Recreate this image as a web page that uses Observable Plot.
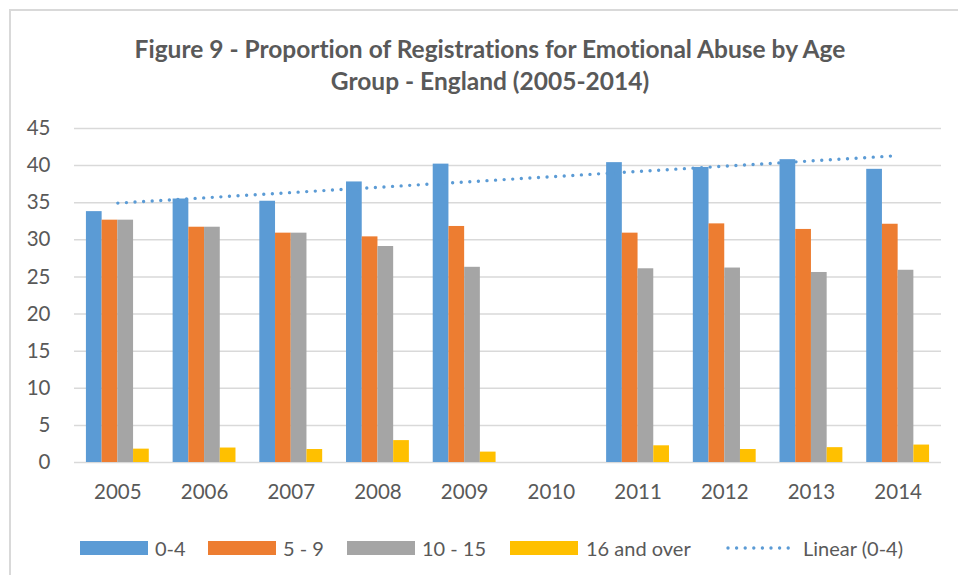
<!DOCTYPE html>
<html>
<head>
<meta charset="utf-8">
<script src="https://cdn.jsdelivr.net/npm/d3@7"></script>
<script src="https://cdn.jsdelivr.net/npm/@observablehq/plot@0.6"></script>
<style>
  html, body { margin: 0; padding: 0; background: #fff; }
  #wrap { position: relative; width: 958px; height: 575px; overflow: hidden; font-family: Lato, "Open Sans", sans-serif; color: #595959; font-variant-ligatures: none; }
  #border { position: absolute; left: 9px; top: 9px; width: 1100px; height: 800px; border: 2px solid #d9d9d9; box-sizing: border-box; }
  #title { position: absolute; left: 0; width: 980px; top: 33px; text-align: center; font-weight: bold; font-size: 24.5px; line-height: 32px; }
  #chart { position: absolute; left: 0; top: 0; }
  .lg { position: absolute; top: 536px; font-size: 20px; line-height: 24px; white-space: nowrap; }
  .sw { position: absolute; top: 541px; height: 14px; }
  svg text { font-variant-ligatures: none; }
</style>
</head>
<body>
<div id="wrap">
  <div id="border"></div>
  <div id="title">Figure 9 - Proportion of Registrations for Emotional Abuse by Age<br>Group - England (2005-2014)</div>
  <div id="chart"></div>
  <div id="legend"></div>
</div>
<script>
const years = [2005, 2006, 2007, 2008, 2009, 2010, 2011, 2012, 2013, 2014];
const seriesNames = ["0-4", "5 - 9", "10 - 15", "16 and over"];
const age0to4   = [33.8, 35.5, 35.2, 37.8, 40.2, null, 40.4, 39.75, 40.8, 39.5];
const age5to9   = [32.65, 31.7, 30.9, 30.4, 31.8, null, 30.9, 32.15, 31.4, 32.1];
const age10to15 = [32.65, 31.7, 30.9, 29.1, 26.3, null, 26.1, 26.2, 25.6, 25.9];
const age16plus = [1.8, 1.95, 1.75, 2.95, 1.4, null, 2.25, 1.75, 2.0, 2.35];
const yTicks = [0, 5, 10, 15, 20, 25, 30, 35, 40, 45];
const trendLabel = "Linear (0-4)";
const colors = ["#5b9bd5", "#ed7d31", "#a5a5a5", "#ffc000"];

const allSeries = [age0to4, age5to9, age10to15, age16plus];
const table = [];
allSeries.forEach((vals, i) => {
  vals.forEach((v, j) => {
    if (v != null) table.push({year: years[j], series: seriesNames[i], i, value: v});
  });
});
const trendData = years.map((y, j) => ({year: y, value: age0to4[j]})).filter(d => d.value != null);

const barW = 0.18125;
const groupStart = -2 * barW;

const plot = Plot.plot({
  width: 958,
  height: 520,
  marginTop: 128,
  marginBottom: 58,
  marginLeft: 74,
  marginRight: 17,
  style: {fontFamily: "Lato, 'Open Sans', sans-serif", fontSize: "20.5px", color: "#595959", background: "transparent"},
  x: {domain: [2004.5, 2014.5]},
  y: {domain: [0, 45]},
  color: {domain: seriesNames, range: colors},
  marks: [
    Plot.ruleY(yTicks, {stroke: "#d9d9d9", strokeWidth: 1.5}),
    Plot.rectY(table, {
      x1: d => d.year + groupStart + d.i * barW,
      x2: d => d.year + groupStart + (d.i + 1) * barW,
      y: "value",
      fill: "series",
      inset: 0
    }),
    Plot.linearRegressionY(trendData, {
      x: "year", y: "value", ci: 0,
      stroke: "#5b9bd5", strokeWidth: 3.4,
      strokeDasharray: "0 8.6", strokeLinecap: "round"
    }),
    Plot.axisY({ticks: yTicks, tickSize: 0, tickPadding: 24, label: null}),
    Plot.axisX({ticks: years, tickFormat: d => String(d), tickSize: 0, tickPadding: 22, label: null})
  ]
});
document.getElementById("chart").appendChild(plot);

// Legend
const legend = document.getElementById("legend");
const items = [
  {sw: 80, tx: 155, label: seriesNames[0], color: colors[0]},
  {sw: 208, tx: 283, label: seriesNames[1], color: colors[1]},
  {sw: 347, tx: 422, label: seriesNames[2], color: colors[2]},
  {sw: 510, tx: 586, label: seriesNames[3], color: colors[3]}
];
items.forEach(it => {
  const s = document.createElement("div");
  s.className = "sw";
  s.style.left = it.sw + "px";
  s.style.width = "68px";
  s.style.background = it.color;
  legend.appendChild(s);
  const t = document.createElement("div");
  t.className = "lg";
  t.style.left = it.tx + "px";
  t.textContent = it.label;
  legend.appendChild(t);
});
const ns = "http://www.w3.org/2000/svg";
const dsvg = document.createElementNS(ns, "svg");
dsvg.setAttribute("width", 80);
dsvg.setAttribute("height", 10);
dsvg.style.position = "absolute";
dsvg.style.left = "720px";
dsvg.style.top = "543px";
const ln = document.createElementNS(ns, "line");
ln.setAttribute("x1", 8); ln.setAttribute("x2", 70);
ln.setAttribute("y1", 5); ln.setAttribute("y2", 5);
ln.setAttribute("stroke", colors[0]);
ln.setAttribute("stroke-width", 3.4);
ln.setAttribute("stroke-dasharray", "0 8.6");
ln.setAttribute("stroke-linecap", "round");
dsvg.appendChild(ln);
legend.appendChild(dsvg);
const tl = document.createElement("div");
tl.className = "lg";
tl.style.left = "803px";
tl.textContent = trendLabel;
legend.appendChild(tl);
</script>
</body>
</html>
